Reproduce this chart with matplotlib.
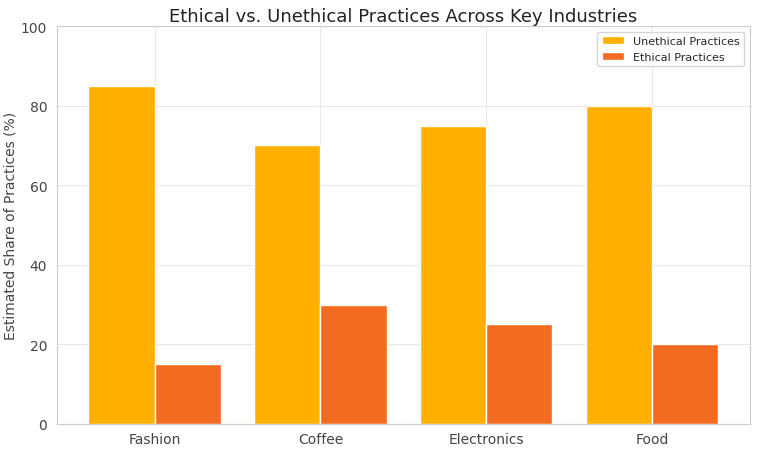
import numpy as np
import matplotlib.pyplot as plt
import seaborn as sns

industries = ['Fashion', 'Coffee', 'Electronics', 'Food']
unethical = [85, 70, 75, 80]
ethical = [15, 30, 25, 20]

sns.set_style('whitegrid')
plt.rcParams['font.family'] = ['DejaVu Sans']

fig, ax = plt.subplots(figsize=(7.58, 4.52), dpi=100)
x = np.arange(len(industries))
w = 0.4
ax.bar(x - w / 2, unethical, w, color='#FFB000', edgecolor='white', label='Unethical Practices')
ax.bar(x + w / 2, ethical, w, color='#F26B21', edgecolor='white', label='Ethical Practices')

ax.set_xticks(x)
ax.set_xticklabels(industries, fontsize=10, color='#444444')
ax.set_ylim(0, 100)
ax.tick_params(axis='y', labelsize=10, colors='#444444')
ax.tick_params(axis='x', pad=2)
ax.set_ylabel('Estimated Share of Practices (%)', fontsize=10, color='#444444', labelpad=2)
ax.set_title('Ethical vs. Unethical Practices Across Key Industries', fontsize=13, color='#222222', pad=4)
ax.legend(loc='upper right', fontsize=8)
for s in ax.spines.values():
    s.set_color('#cccccc')
ax.grid(color='#e8e8e8', linewidth=0.8)

plt.subplots_adjust(left=0.075, right=0.989, top=0.94, bottom=0.06)
plt.savefig('out.png')
